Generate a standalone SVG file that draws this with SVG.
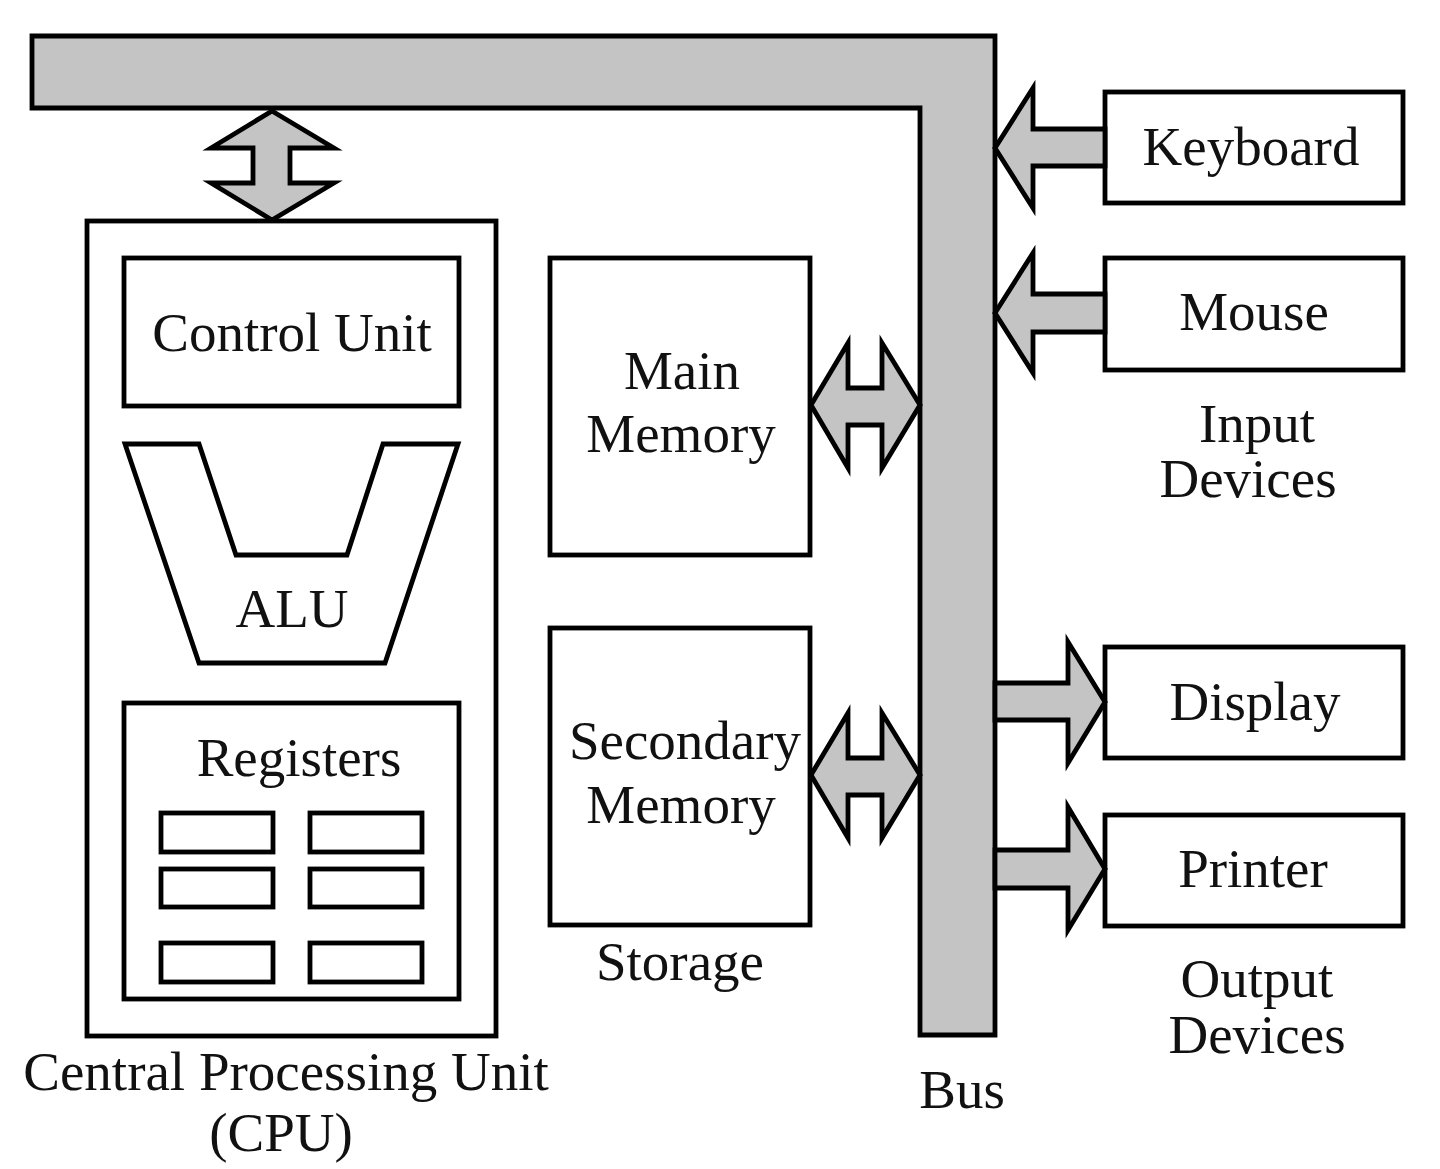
<svg xmlns="http://www.w3.org/2000/svg" width="1440" height="1169" viewBox="0 0 1440 1169">
<style>
.box{fill:#fff;stroke:#000;stroke-width:4.8}
.sh{fill:#c4c4c4;stroke:#000;stroke-width:4.8;stroke-linejoin:miter}
.ln{fill:none;stroke:#000;stroke-width:4.8;stroke-linejoin:miter}
text{font-family:"Liberation Serif","Times New Roman",serif;font-size:55px;fill:#111;text-anchor:middle}
</style>
<rect width="1440" height="1169" fill="#fff"/>
<g id="bus">
<path class="sh" d="M32,36 H995 V1035 H920 V108 H32 Z"/>
<text x="962" y="1108">Bus</text>
</g>
<g id="cpu">
<rect class="box" x="87" y="221" width="409" height="815"/>
<text x="286" y="1090">Central Processing Unit</text>
<text x="281" y="1151">(CPU)</text>
</g>
<g id="control-unit">
<rect class="box" x="124" y="258" width="335" height="148"/>
<text x="292" y="351">Control Unit</text>
</g>
<g id="alu">
<polygon class="ln" points="125,444 199,444 236,555 347,555 383,444 458,444 385,663 199,663"/>
<text x="292" y="627">ALU</text>
</g>
<g id="registers">
<rect class="box" x="124" y="703" width="335" height="296"/>
<text x="299" y="776">Registers</text>
<rect class="box" x="161" y="813" width="112" height="39"/>
<rect class="box" x="310" y="813" width="112" height="39"/>
<rect class="box" x="161" y="869" width="112" height="38"/>
<rect class="box" x="310" y="869" width="112" height="38"/>
<rect class="box" x="161" y="943" width="112" height="39"/>
<rect class="box" x="310" y="943" width="112" height="39"/>
</g>
<g id="main-memory">
<rect class="box" x="550" y="258" width="260" height="297"/>
<text x="682" y="389">Main</text>
<text x="681" y="452">Memory</text>
</g>
<g id="secondary-memory">
<rect class="box" x="550" y="628" width="260" height="297"/>
<text x="685" y="759">Secondary</text>
<text x="681" y="823">Memory</text>
<text x="680" y="980">Storage</text>
</g>
<g id="keyboard">
<rect class="box" x="1105" y="92" width="298" height="111"/>
<text x="1251" y="165">Keyboard</text>
</g>
<g id="mouse">
<rect class="box" x="1105" y="258" width="298" height="112"/>
<text x="1254" y="330">Mouse</text>
<text x="1257" y="442">Input</text>
<text x="1248" y="497">Devices</text>
</g>
<g id="display">
<rect class="box" x="1105" y="647" width="298" height="111"/>
<text x="1255" y="720">Display</text>
</g>
<g id="printer">
<rect class="box" x="1105" y="815" width="298" height="111"/>
<text x="1253" y="887">Printer</text>
<text x="1257" y="997">Output</text>
<text x="1257" y="1053">Devices</text>
</g>
<g id="connectors">
<polygon class="sh" points="272,111 334,148 290,148 290,183 334,183 272,220 211,183 253,183 253,148 211,148"/>
<polygon class="sh" points="811,405 848,343 848,388 882,388 882,343 920,405 882,468 882,425 848,425 848,468"/>
<polygon class="sh" points="811,775 848,713 848,758 882,758 882,713 920,775 882,838 882,795 848,795 848,838"/>
<polygon class="sh" points="995,148 1033,88 1033,129 1105,129 1105,166 1033,166 1033,208"/>
<polygon class="sh" points="995,313 1033,253 1033,294 1105,294 1105,332 1033,332 1033,373"/>
<polygon class="sh" points="995,683 1068,683 1068,642 1105,702 1068,763 1068,720 995,720"/>
<polygon class="sh" points="995,850 1068,850 1068,807 1105,869 1068,930 1068,888 995,888"/>
</g>
</svg>
